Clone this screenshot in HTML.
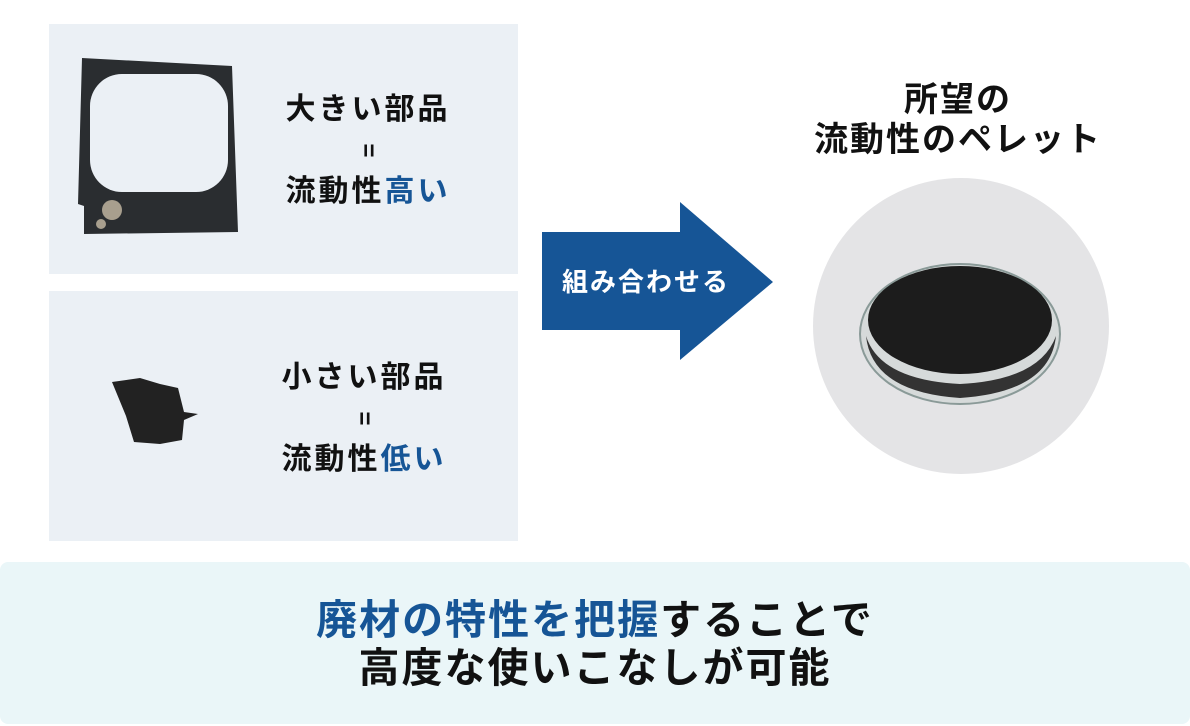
<!DOCTYPE html>
<html><head><meta charset="utf-8"><style>
body{margin:0;width:1190px;height:726px;background:#fff;position:relative;overflow:hidden;font-family:"Liberation Sans","Noto Sans CJK JP",sans-serif;font-weight:bold}
.p{position:absolute;left:49px;width:469px;height:250px;background:#ebf0f5}
.t{position:absolute;text-align:center;color:#111;white-space:nowrap}
.b{color:#165596}
.eq{display:inline-block;transform:rotate(90deg);font-size:24px}
</style></head><body>
<div class="p" style="top:24px"></div>
<div class="p" style="top:291px"></div>
<svg style="position:absolute;left:0;top:0" width="1190" height="726">
<path d="M82 58 L232 66 L238 232 L84 234 L84 206 L78 204 Z" fill="#2a2d30"/>
<rect x="90" y="74" width="138" height="118" rx="32" fill="#ebf0f5"/>
<circle cx="112" cy="210" r="10" fill="#a89f8e"/>
<circle cx="101" cy="224" r="5" fill="#a89f8e"/>
<path d="M112 382 L140 378 L160 384 L178 388 L184 412 L198 414 L184 420 L182 440 L160 444 L134 442 L126 416 Z" fill="#222"/>
<polygon points="542,232 680,232 680,202 773,282 680,360 680,330 542,330" fill="#165596"/>
<circle cx="961" cy="326" r="148" fill="#e4e4e6"/>
<ellipse cx="960" cy="334" rx="100" ry="70" fill="#d6dada" stroke="#8a9a98" stroke-width="2"/>
<ellipse cx="960" cy="320" rx="92" ry="54" fill="#1c1c1c"/>
<path d="M866 336 Q872 392 960 398 Q1050 392 1056 336 Q1040 380 960 384 Q880 380 866 336Z" fill="#333"/>
<rect x="0" y="562" width="1190" height="162" rx="8" fill="#eaf6f8"/>
</svg>
<div class="t" style="left:220px;width:296px;top:90px;font-size:30px;line-height:40px;letter-spacing:3px">大きい部品<br><span class="eq">=</span><br>流動性<span class="b">高い</span></div>
<div class="t" style="left:216px;width:296px;top:358px;font-size:30px;line-height:40px;letter-spacing:3px">小さい部品<br><span class="eq">=</span><br>流動性<span class="b">低い</span></div>
<div class="t" style="left:758px;width:400px;top:80px;font-size:34px;line-height:40px;letter-spacing:2px">所望の<br>流動性のペレット</div>
<div class="t" style="left:542px;width:208px;top:266px;color:#fff;font-size:26px;line-height:32px;letter-spacing:2px">組み合わせる</div>
<div class="t" style="left:0;width:1190px;top:596px;font-size:41px;line-height:48px;letter-spacing:2px"><span class="b">廃材の特性を把握</span>することで<br>高度な使いこなしが可能</div>
</body></html>
